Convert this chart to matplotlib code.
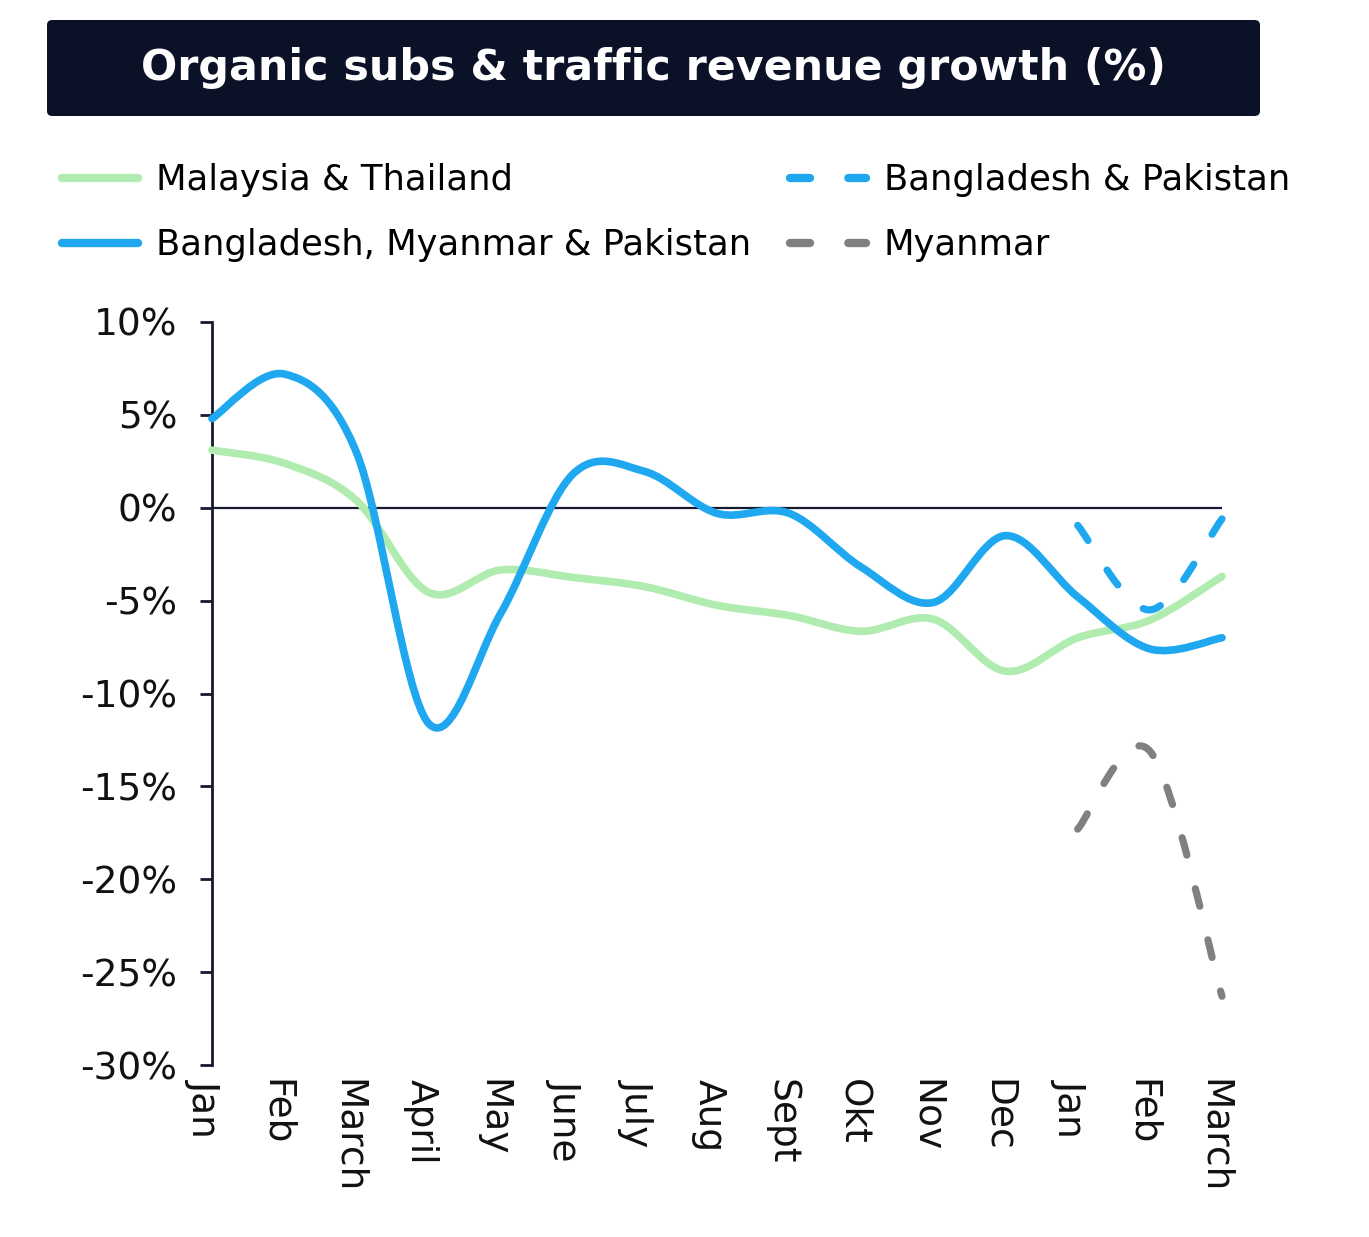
import numpy as np
import matplotlib
matplotlib.use("Agg")
import matplotlib.pyplot as plt
from matplotlib.path import Path
from matplotlib.patches import PathPatch, FancyBboxPatch
from matplotlib.lines import Line2D
from matplotlib.transforms import ScaledTranslation

# data (% growth)
months = ["Jan", "Feb", "March", "April", "May", "June", "July", "Aug",
          "Sept", "Okt", "Nov", "Dec", "Jan", "Feb", "March"]
malaysia_thailand = [3.1, 2.4, 0.4, -4.55, -3.35, -3.75, -4.25, -5.25,
                     -5.8, -6.65, -6.0, -8.8, -7.0, -6.05, -3.7]
bang_myan_pak = [4.8, 7.2, 3.0, -11.6, -5.7, 1.8, 1.95, -0.3,
                 -0.3, -3.2, -5.1, -1.5, -4.8, -7.6, -7.0]
bang_pak_idx = [12, 13, 14]
bang_pak = [-0.95, -5.5, -0.6]
myanmar_idx = [12, 13, 14]
myanmar = [-17.3, -13.1, -26.3]

yticks = [10, 5, 0, -5, -10, -15, -20, -25, -30]
ytick_labels = ["10%", "5%", "0%", "-5%", "-10%", "-15%", "-20%", "-25%", "-30%"]

GREEN = "#b0ebb0"
BLUE = "#1fa8ef"
GREY = "#808080"
DARK = "#151a30"
ON, OFF = 2.6, 5.0
LW = 5.5
LW_DASH = 5.2


def smooth_path(xs, ys):
    # catmull-rom through the points, drawn as cubic bezier
    pts = np.column_stack([xs, ys]).astype(float)
    ext = np.vstack([pts[0], pts, pts[-1]])
    verts = [pts[0]]
    codes = [Path.MOVETO]
    for i in range(len(pts) - 1):
        p0, p1, p2, p3 = ext[i], ext[i + 1], ext[i + 2], ext[i + 3]
        verts += [p1 + (p2 - p0) / 6, p2 - (p3 - p1) / 6, p2]
        codes += [Path.CURVE4] * 3
    return Path(verts, codes)


def fitted_dash(path, lw, end_frac):
    # stretch the dash pattern a little so the line ends part way into a dash
    disp = ax.transData.transform_path(path)
    length = 0.0
    for bez, code in disp.iter_bezier():
        p = bez(np.linspace(0, 1, 80))
        length += np.hypot(*np.diff(p, axis=0).T).sum()
    length *= 72 / fig.dpi
    period = (ON + OFF) * lw
    n = max(1, round((length - end_frac * ON * lw) / period))
    s = length / (n * period + end_frac * ON * lw)
    return (0, (ON * s, OFF * s))


W, H = 1369, 1237
fig = plt.figure(figsize=(W / 100, H / 100), dpi=100)
ax = fig.add_axes([212 / W, 1 - 1065 / H, 1010 / W, 743 / H])

x = np.arange(len(months))
ax.set_xlim(0, 14)
ax.set_ylim(-30, 10)
ax.axhline(0, color=DARK, lw=1.6, zorder=1)

series = [
    (x, malaysia_thailand, GREEN, None, LW),
    (x, bang_myan_pak, BLUE, None, LW),
    (bang_pak_idx, bang_pak, BLUE, 1.0, LW_DASH),
    (myanmar_idx, myanmar, GREY, 0.3, LW_DASH),
]
for xs, ys, col, end_frac, lw in series:
    path = smooth_path(xs, ys)
    ls = "-" if end_frac is None else fitted_dash(path, lw, end_frac)
    patch = PathPatch(path, facecolor="none", edgecolor=col,
                      lw=lw, linestyle=ls, capstyle="round", joinstyle="round",
                      zorder=3, clip_on=False)
    ax.add_patch(patch)

ax.set_yticks(yticks)
ax.set_yticklabels(ytick_labels)
ax.set_xticks(x)
ax.set_xticklabels(months, rotation=270, va="top", ha="center")

for s in ["top", "right", "bottom"]:
    ax.spines[s].set_visible(False)
ax.spines["left"].set_color(DARK)
ax.spines["left"].set_linewidth(2)
ax.tick_params(axis="y", length=9, width=2, color=DARK, pad=16,
               labelsize=27, labelcolor="#111111")
ax.tick_params(axis="x", length=0, pad=10, labelsize=27, labelcolor="#111111")
for lab in ax.get_xticklabels():
    lab.set_transform(lab.get_transform() + ScaledTranslation(-0.08, 0, fig.dpi_scale_trans))

# title box
fig.patches.append(FancyBboxPatch((47 / W, 1 - 116 / H), 1213 / W, 96 / H,
                                  boxstyle="round,pad=0,rounding_size=0.004",
                                  transform=fig.transFigure, facecolor="#0b1126",
                                  edgecolor="none"))
fig.text(653 / W, 1 - 68 / H, "Organic subs & traffic revenue growth (%)",
         color="white", fontsize=30.8, fontweight="bold", ha="center", va="center")

# legend, two columns
def handle(col, ls):
    return Line2D([], [], color=col, lw=LW + 0.5, linestyle=ls,
                  dash_capstyle="round", solid_capstyle="round")

leg_kw = dict(loc="upper left", frameon=False, fontsize=25.5, handlelength=2.15,
              handletextpad=0.5, labelspacing=0.88, borderpad=0, borderaxespad=0)
fig.legend([handle(GREEN, "-"), handle(BLUE, "-")],
           ["Malaysia & Thailand", "Bangladesh, Myanmar & Pakistan"],
           bbox_to_anchor=(62 / W, 1 - 163 / H), **leg_kw)
fig.legend([handle(BLUE, (0, (2.4, 4.6))), handle(GREY, (0, (2.4, 4.6)))],
           ["Bangladesh & Pakistan", "Myanmar"],
           bbox_to_anchor=(790 / W, 1 - 163 / H), **leg_kw)

fig.savefig("out.png", dpi=100, facecolor="white")
